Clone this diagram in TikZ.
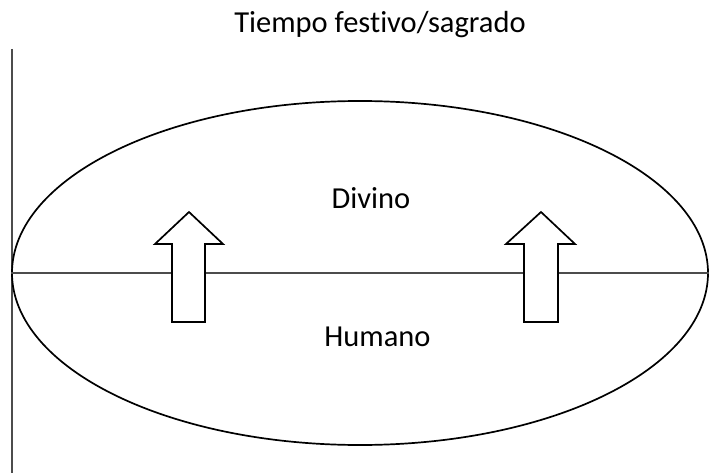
\documentclass[tikz,border=0pt]{standalone}
\usepackage{fontspec}
\setmainfont{Carlito}[Ligatures=NoCommon]
\usetikzlibrary{shapes.geometric}
\begin{document}
\begin{tikzpicture}[x=1pt,y=-1pt,
  thinline/.style={draw=black!70, line width=1.1pt},
  outline/.style={draw=black, line width=1.7pt},
  fatarrow/.style={draw=black, line width=1.7pt, fill=white, line join=miter},
  lbl/.style={font=\fontsize{30.5}{36}\selectfont, inner sep=0pt, anchor=base}]
\useasboundingbox (0,0) rectangle (709,473);
\coordinate (vtop) at (12,49);
\coordinate (vbot) at (12,473);
\draw[thinline] (vtop) -- (vbot);
\node[outline, ellipse, minimum width=696pt, minimum height=344pt, inner sep=0pt] (ell) at (360,273) {};
\draw[thinline] (ell.west) -- (ell.east);
\draw[fatarrow] (172,322) -- (172,244) -- (155,244) -- (189,212) -- (223,244) -- (205,244) -- (205,322) -- cycle;
\draw[fatarrow] (524,322) -- (524,244) -- (506,244) -- (541,212) -- (575,244) -- (558,244) -- (558,322) -- cycle;
\node[lbl] (title) at (380,33) {Tiempo festivo/sagrado};
\node[lbl] (div) at (371,208) {Divino};
\node[lbl] (hum) at (377.5,346) {Humano};
\end{tikzpicture}
\end{document}
